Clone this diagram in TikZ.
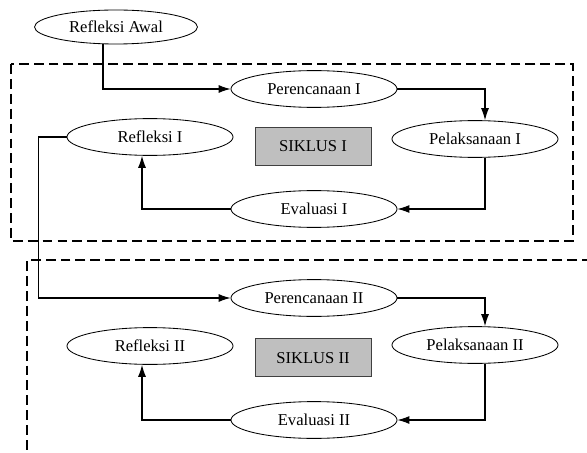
\documentclass[tikz,border=0pt]{standalone}
\usepackage{fontspec}
\setmainfont{Liberation Serif}
\usetikzlibrary{shapes.geometric,arrows.meta}
\tikzset{
    tahap/.style={
            ellipse, draw, line width=0.6pt,
            minimum width=4.15cm, minimum height=0.92cm, inner sep=0pt,
            font=\fontsize{11.8}{14}\selectfont
        },
    siklus/.style={
            rectangle, draw=black!75, fill=black!25, line width=0.6pt,
            minimum width=2.9cm, minimum height=0.95cm, inner sep=0pt,
            font=\fontsize{11.8}{14}\selectfont
        },
    alur/.style={
            -{Latex[length=0.3cm, width=0.2cm]}, line width=0.75pt
        },
    batas/.style={
            line width=1.4pt, dash pattern=on 7pt off 3.6pt
        },
}

\begin{document}
\begin{tikzpicture}
        \useasboundingbox (0, 0) rectangle (14.675, -11.325);
        %draw dashed borders of each cycle
        \draw[batas] (0.275, -1.6) rectangle (14.325, -6.025);
        \draw[batas] (14.8, -6.5) -- (0.675, -6.5) -- (0.675, -11.4);
        %draw first reflection
        \node[tahap, minimum width=4.075cm, minimum height=0.85cm] (awal) at (2.9, -0.675) {Refleksi Awal};
        %draw nodes of cycle one
        \node[tahap] (rencana1) at (7.85, -2.225) {Perencanaan I};
        \node[tahap] (laksana1) at (11.875, -3.475) {Pelaksanaan I};
        \node[tahap] (evaluasi1) at (7.85, -5.225) {Evaluasi I};
        \node[tahap] (refleksi1) at (3.75, -3.425) {Refleksi I};
        \node[siklus] (siklus1) at (7.825, -3.65) {SIKLUS I};
        %draw nodes of cycle two
        \node[tahap] (rencana2) at (7.85, -7.45) {Perencanaan II};
        \node[tahap] (laksana2) at (11.875, -8.625) {Pelaksanaan II};
        \node[tahap] (evaluasi2) at (7.85, -10.5) {Evaluasi II};
        \node[tahap] (refleksi2) at (3.75, -8.65) {Refleksi II};
        \node[siklus] (siklus2) at (7.825, -8.94) {SIKLUS II};
        %draw arrows of cycle one
        \draw[alur] ([xshift=-0.325cm]awal.south) |- (rencana1.west);
        \draw[alur] (rencana1.east) -| ([xshift=0.25cm]laksana1.north);
        \draw[alur] ([xshift=0.25cm]laksana1.south) |- (evaluasi1.east);
        \draw[alur] (evaluasi1.west) -| ([xshift=-0.2cm]refleksi1.south);
        %draw arrow into cycle two
        \draw[alur] (refleksi1.west) -- ++(-0.7, 0) |- (rencana2.west);
        %draw arrows of cycle two
        \draw[alur] (rencana2.east) -| ([xshift=0.25cm]laksana2.north);
        \draw[alur] ([xshift=0.25cm]laksana2.south) |- (evaluasi2.east);
        \draw[alur] (evaluasi2.west) -| ([xshift=-0.2cm]refleksi2.south);
    \end{tikzpicture}
\end{document}
